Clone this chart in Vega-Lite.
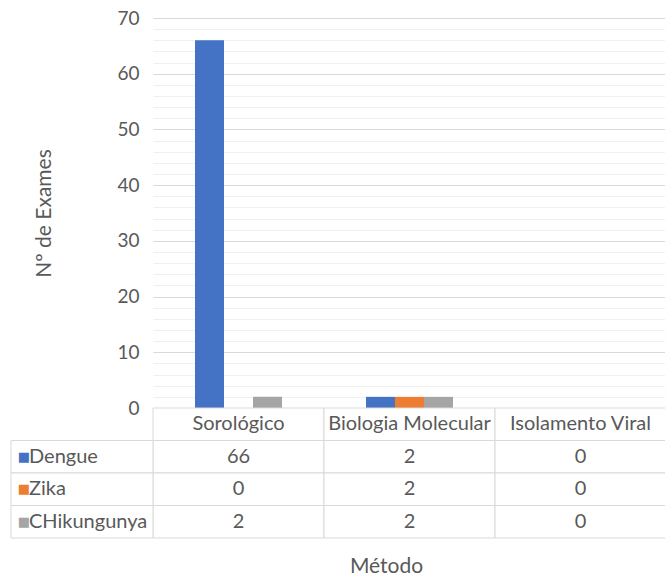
{
  "$schema": "https://vega.github.io/schema/vega-lite/v6.json",
  "padding": {"left": 10, "top": 9, "right": 0, "bottom": 0},
  "spacing": 0,
  "bounds": "flush",
  "config": {"view": {"stroke": null}, "font": "Lato"},
  "datasets": {
    "exames": [
      {"method": "Sorológico", "series": "Dengue", "value": 66},
      {"method": "Biologia Molecular", "series": "Dengue", "value": 2},
      {"method": "Isolamento Viral", "series": "Dengue", "value": 0},
      {"method": "Sorológico", "series": "Zika", "value": 0},
      {"method": "Biologia Molecular", "series": "Zika", "value": 2},
      {"method": "Isolamento Viral", "series": "Zika", "value": 0},
      {"method": "Sorológico", "series": "CHikungunya", "value": 2},
      {"method": "Biologia Molecular", "series": "CHikungunya", "value": 2},
      {"method": "Isolamento Viral", "series": "CHikungunya", "value": 0}
    ]
  },
  "vconcat": [
    {
      "width": 513,
      "height": 390,
      "data": {"name": "exames"},
      "mark": {"type": "bar"},
      "encoding": {
        "x": {"field": "method", "type": "nominal", "axis": null,
              "scale": {"domain": ["Sorológico", "Biologia Molecular", "Isolamento Viral"], "paddingInner": 0.491, "paddingOuter": 0.2456}},
        "xOffset": {"field": "series", "type": "nominal",
                    "scale": {"domain": ["Dengue", "Zika", "CHikungunya"], "paddingInner": 0, "paddingOuter": 0}},
        "y": {"field": "value", "type": "quantitative",
              "scale": {"domain": [0, 70], "nice": false},
              "axis": {
                "values": [0, 2, 4, 6, 8, 10, 12, 14, 16, 18, 20, 22, 24, 26, 28, 30, 32, 34, 36, 38, 40, 42, 44, 46, 48, 50, 52, 54, 56, 58, 60, 62, 64, 66, 68, 70],
                "labelExpr": "datum.value % 10 === 0 ? datum.label : ''",
                "gridColor": {"condition": {"test": "datum.value % 10 === 0", "value": "#d9d9d9"}, "value": "#f0f0f0"},
                "ticks": false, "domain": false,
                "labelPadding": 14, "labelFontSize": 19, "labelColor": "#595959",
                "title": "Nº de Exames", "titleFontSize": 21, "titleFontWeight": "normal",
                "titleColor": "#595959", "titlePadding": 62
              }},
        "color": {"field": "series", "type": "nominal", "legend": null,
                  "scale": {"domain": ["Dengue", "Zika", "CHikungunya"], "range": ["#4472c4", "#ed7d31", "#a5a5a5"]}}
      }
    },
    {
      "width": 513,
      "height": 130,
      "data": {"name": "exames"},
      "resolve": {"scale": {"x": "independent"}},
      "layer": [
        {
          "mark": {"type": "rect", "fill": "white", "stroke": "#d9d9d9", "strokeWidth": 1},
          "encoding": {
            "x": {"field": "method", "type": "nominal",
                  "scale": {"domain": ["Sorológico", "Biologia Molecular", "Isolamento Viral"], "paddingInner": 0, "paddingOuter": 0},
                  "axis": {"labels": false, "ticks": false, "domain": false, "title": "Método",
                           "titleFontSize": 21, "titleFontWeight": "normal", "titleColor": "#595959",
                           "titlePadding": 17, "titleX": 233}},
            "y": {"field": "series", "type": "nominal", "axis": null,
                  "scale": {"domain": ["header", "Dengue", "Zika", "CHikungunya"], "paddingInner": 0, "paddingOuter": 0}}
          }
        },
        {
          "transform": [{"aggregate": [{"op": "count", "as": "n"}], "groupby": ["method"]}],
          "mark": {"type": "rect", "fill": "white", "stroke": "#d9d9d9", "strokeWidth": 1},
          "encoding": {
            "x": {"field": "method", "type": "nominal", "axis": null,
                  "scale": {"domain": ["Sorológico", "Biologia Molecular", "Isolamento Viral"], "paddingInner": 0, "paddingOuter": 0}},
            "y": {"datum": "header", "type": "nominal"}
          }
        },
        {
          "mark": {"type": "text", "fontSize": 20, "color": "#595959"},
          "encoding": {
            "x": {"field": "method", "type": "nominal", "axis": null,
                  "scale": {"domain": ["Sorológico", "Biologia Molecular", "Isolamento Viral"], "paddingInner": 0, "paddingOuter": 0}},
            "y": {"field": "series", "type": "nominal"},
            "text": {"field": "value", "type": "quantitative"}
          }
        },
        {
          "transform": [{"aggregate": [{"op": "count", "as": "n"}], "groupby": ["method"]}],
          "mark": {"type": "text", "fontSize": 20, "color": "#595959"},
          "encoding": {
            "x": {"field": "method", "type": "nominal", "axis": null,
                  "scale": {"domain": ["Sorológico", "Biologia Molecular", "Isolamento Viral"], "paddingInner": 0, "paddingOuter": 0}},
            "y": {"datum": "header", "type": "nominal"},
            "text": {"field": "method", "type": "nominal"}
          }
        },
        {
          "transform": [{"aggregate": [{"op": "count", "as": "n"}], "groupby": ["series"]}],
          "mark": {"type": "rect", "fill": "white", "stroke": "#d9d9d9", "strokeWidth": 1},
          "encoding": {
            "x": {"datum": "legend", "type": "nominal", "axis": null,
                  "scale": {"domain": ["legend"], "range": [-142, 0], "paddingInner": 0, "paddingOuter": 0}},
            "y": {"field": "series", "type": "nominal"}
          }
        },
        {
          "transform": [{"aggregate": [{"op": "count", "as": "n"}], "groupby": ["series"]}],
          "mark": {"type": "text", "fontSize": 13, "align": "center", "dx": -58, "font": "DejaVu Sans"},
          "encoding": {
            "x": {"datum": "legend", "type": "nominal", "axis": null,
                  "scale": {"domain": ["legend"], "range": [-142, 0], "paddingInner": 0, "paddingOuter": 0}},
            "y": {"field": "series", "type": "nominal"},
            "text": {"value": "■"},
            "color": {"field": "series", "type": "nominal", "legend": null,
                      "scale": {"domain": ["Dengue", "Zika", "CHikungunya"], "range": ["#4472c4", "#ed7d31", "#a5a5a5"]}}
          }
        },
        {
          "transform": [{"aggregate": [{"op": "count", "as": "n"}], "groupby": ["series"]}],
          "mark": {"type": "text", "fontSize": 20, "align": "left", "dx": -53, "color": "#595959"},
          "encoding": {
            "x": {"datum": "legend", "type": "nominal", "axis": null,
                  "scale": {"domain": ["legend"], "range": [-142, 0], "paddingInner": 0, "paddingOuter": 0}},
            "y": {"field": "series", "type": "nominal"},
            "text": {"field": "series", "type": "nominal"}
          }
        }
      ]
    }
  ]
}
